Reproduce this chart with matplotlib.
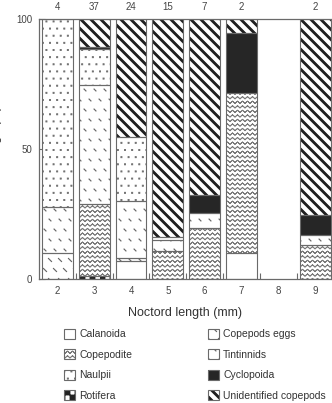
import warnings
import numpy as np
import matplotlib
matplotlib.use("Agg")
import matplotlib.pyplot as plt
from matplotlib import hatch as mhatch
from matplotlib.path import Path
from matplotlib.patches import Patch

warnings.filterwarnings("ignore")

# data: % composition of gut contents by noctord length
lengths = [2, 3, 4, 5, 6, 7, 8, 9]
counts = ["4", "37", "24", "15", "7", "2", "", "2"]

calanoida = [0, 0, 6.9, 0, 0, 10.1, 0, 0]
rotifera = [0, 1.0, 0, 0, 0, 0, 0, 0]
copepodite = [0, 27.8, 0, 10.8, 19.5, 61.6, 0, 13.0]
copepod_eggs = [9.9, 0, 1.1, 0, 0, 0, 0, 0]
tintinnids = [17.9, 45.8, 22.1, 4.2, 5.8, 0, 0, 4.0]
naulpii = [72.2, 13.8, 24.5, 1.0, 0, 0, 0, 0]
cyclopoida = [0, 1.0, 0, 0, 6.9, 22.8, 0, 7.6]
unidentified = [0, 10.6, 45.4, 84.0, 67.8, 5.5, 0, 75.4]

# stacking order, bottom to top
stack = [
    ("Calanoida", calanoida),
    ("Rotifera", rotifera),
    ("Copepodite", copepodite),
    ("Copepods eggs", copepod_eggs),
    ("Tintinnids", tintinnids),
    ("Naulpii", naulpii),
    ("Cyclopoida", cyclopoida),
    ("Unidentified copepods", unidentified),
]
legend_order = ["Calanoida", "Copepodite", "Naulpii", "Rotifera",
                "Copepods eggs", "Tintinnids", "Cyclopoida", "Unidentified copepods"]

EDGE = "#6a6a6a"
TXT = "#444444"

# name -> (facecolor, hatch, hatch colour)
styles = {
    "Calanoida": ("white", None, EDGE),
    "Rotifera": ("white", "k", "#222222"),
    "Copepodite": ("white", "w", "#7a7a7a"),
    "Copepods eggs": ("white", "e", "#6a6a6a"),
    "Tintinnids": ("white", "t", "#6a6a6a"),
    "Naulpii": ("white", "n", "#707070"),
    "Cyclopoida": ("#262626", None, "#262626"),
    "Unidentified copepods": ("white", "u", "#1e1e1e"),
}


# ---- custom hatch textures -------------------------------------------
SEG = np.array([[-0.5, 0.5], [0.5, -0.5]])
SEG_CODES = np.array([Path.MOVETO, Path.LINETO], dtype=Path.code_type)
SQ = np.array([[-0.5, -0.5], [0.5, -0.5], [0.5, 0.5], [-0.5, 0.5], [-0.5, -0.5]])
SQ_CODES = np.array([Path.MOVETO, Path.LINETO, Path.LINETO, Path.LINETO,
                     Path.CLOSEPOLY], dtype=Path.code_type)


class Marks(mhatch.Shapes):
    char = "?"
    rows = 10
    filled = False

    def __init__(self, hatch, density):
        self.num_rows = hatch.count(self.char) * self.rows
        super().__init__(hatch, density)


class EggMarks(Marks):
    char, rows, size = "e", 10, 0.34
    shape_vertices, shape_codes = SEG, SEG_CODES


class TintMarks(Marks):
    char, rows, size = "t", 10, 0.2
    shape_vertices, shape_codes = SEG, SEG_CODES


class DotMarks(Marks):
    char, rows, size, filled = "n", 14, 0.16, True
    shape_vertices, shape_codes = SQ, SQ_CODES


class WaveHatch(mhatch.HatchPatternBase):
    def __init__(self, hatch, density):
        self.num_lines = hatch.count("w") * 22
        self.num_pts = 2 * 20 + 1
        self.num_vertices = self.num_lines * self.num_pts * 2

    def set_vertices_and_codes(self, vertices, codes):
        xs = np.linspace(0, 1, self.num_pts)
        zig = np.where(np.arange(self.num_pts) % 2 == 0, -1.0, 1.0) * 0.25 / self.num_lines
        parts = []
        for i in range(self.num_lines):
            fwd = np.column_stack([xs, (i + 0.5) / self.num_lines + zig])
            parts.append(np.vstack([fwd, fwd[::-1]]))
        vertices[:] = np.vstack(parts)
        row_codes = np.full(2 * self.num_pts, Path.LINETO, dtype=Path.code_type)
        row_codes[0] = Path.MOVETO
        codes[:] = np.tile(row_codes, self.num_lines)


class BandHatch(mhatch.HatchPatternBase):
    def __init__(self, hatch, density):
        self.num_lines = hatch.count("u") * 20
        self.num_bands = self.num_lines + 2 if self.num_lines else 0
        self.num_vertices = self.num_bands * 5

    def set_vertices_and_codes(self, vertices, codes):
        w = 0.028
        x0, x1 = -0.1, 1.1
        for k in range(self.num_bands):
            c = 2.0 * (k - 1) / self.num_lines
            vertices[5 * k:5 * k + 5] = [[x0, c - x0], [x1, c - x1], [x1, c - x1 + w],
                                         [x0, c - x0 + w], [x0, c - x0]]
            codes[5 * k:5 * k + 5] = SQ_CODES


class CheckerHatch(mhatch.HatchPatternBase):
    def __init__(self, hatch, density):
        self.n = hatch.count("k") * 20
        self.cells = [(i, j) for i in range(self.n) for j in range(self.n) if (i + j) % 2 == 0]
        self.num_vertices = len(self.cells) * 5

    def set_vertices_and_codes(self, vertices, codes):
        d = 1.0 / self.n
        for m, (i, j) in enumerate(self.cells):
            vertices[5 * m:5 * m + 5] = (SQ + 0.5) * d + [i * d, j * d]
            codes[5 * m:5 * m + 5] = SQ_CODES


mhatch._hatch_types.extend([EggMarks, TintMarks, DotMarks, WaveHatch, BandHatch, CheckerHatch])

plt.rcParams["font.family"] = ["Liberation Sans", "DejaVu Sans"]
plt.rcParams["hatch.linewidth"] = 0.6

# ---- figure ------------------------------------------------------------
fig = plt.figure(figsize=(3.32, 4.03), dpi=100)
ax = fig.add_axes([39 / 332, 124 / 403, 293 / 332, 260 / 403])

x = np.array(lengths, dtype=float)
width = 0.84
bottom = np.zeros(len(lengths))
for name, vals in stack:
    vals = np.array(vals, dtype=float)
    face, hatch, hcol = styles[name]
    m = vals > 0
    if m.any():
        ax.bar(x[m], vals[m], width, bottom=bottom[m], color=face, edgecolor=hcol,
               linewidth=0, hatch=hatch, zorder=2)
        ax.bar(x[m], vals[m], width, bottom=bottom[m], fill=False, edgecolor=EDGE,
               linewidth=0.8, zorder=3)
    bottom += vals

for xi, c in zip(lengths, counts):
    ax.text(xi, 104.5, c, ha="center", va="center", fontsize=7, color=TXT, clip_on=False)

ax.set_xlim(1.5, 9.46)
ax.set_ylim(0, 100)
ax.set_xticks(lengths)
ax.set_xticklabels([str(v) for v in lengths])
ax.set_xticks([v + 0.5 for v in lengths[:-1]], minor=True)
ax.set_yticks([0, 50, 100])
ax.tick_params(axis="x", which="major", length=0, pad=5, labelsize=7, labelcolor=TXT)
ax.tick_params(axis="x", which="minor", direction="in", length=4, width=0.8, color=EDGE)
ax.tick_params(axis="y", direction="in", length=4, width=0.8, color=EDGE, pad=5,
               labelsize=7, labelcolor=TXT)
for s in ax.spines.values():
    s.set_color(EDGE)
    s.set_linewidth(0.9)

ax.set_xlabel("Noctord length (mm)", fontsize=9, color="#333333", labelpad=8)
ax.set_ylabel("Percentage (%)", fontsize=9, color="#333333")
ax.yaxis.set_label_coords(-0.127, 0.5)

handles = []
for name in legend_order:
    face, hatch, hcol = styles[name]
    fillp = Patch(facecolor=face, edgecolor=hcol, linewidth=0, hatch=hatch)
    edge = Patch(facecolor="none", edgecolor=EDGE, linewidth=0.8)
    handles.append((fillp, edge))

fig.legend(handles, legend_order, ncol=2, loc="upper left",
           bbox_to_anchor=(64 / 332, 1 - 329 / 403), frameon=False,
           fontsize=7.5, labelcolor="#333333", handlelength=1.05, handleheight=1.05,
           handletextpad=0.4, columnspacing=7.3, labelspacing=0.97,
           borderpad=0, borderaxespad=0)

fig.savefig("out.png", dpi=100)
